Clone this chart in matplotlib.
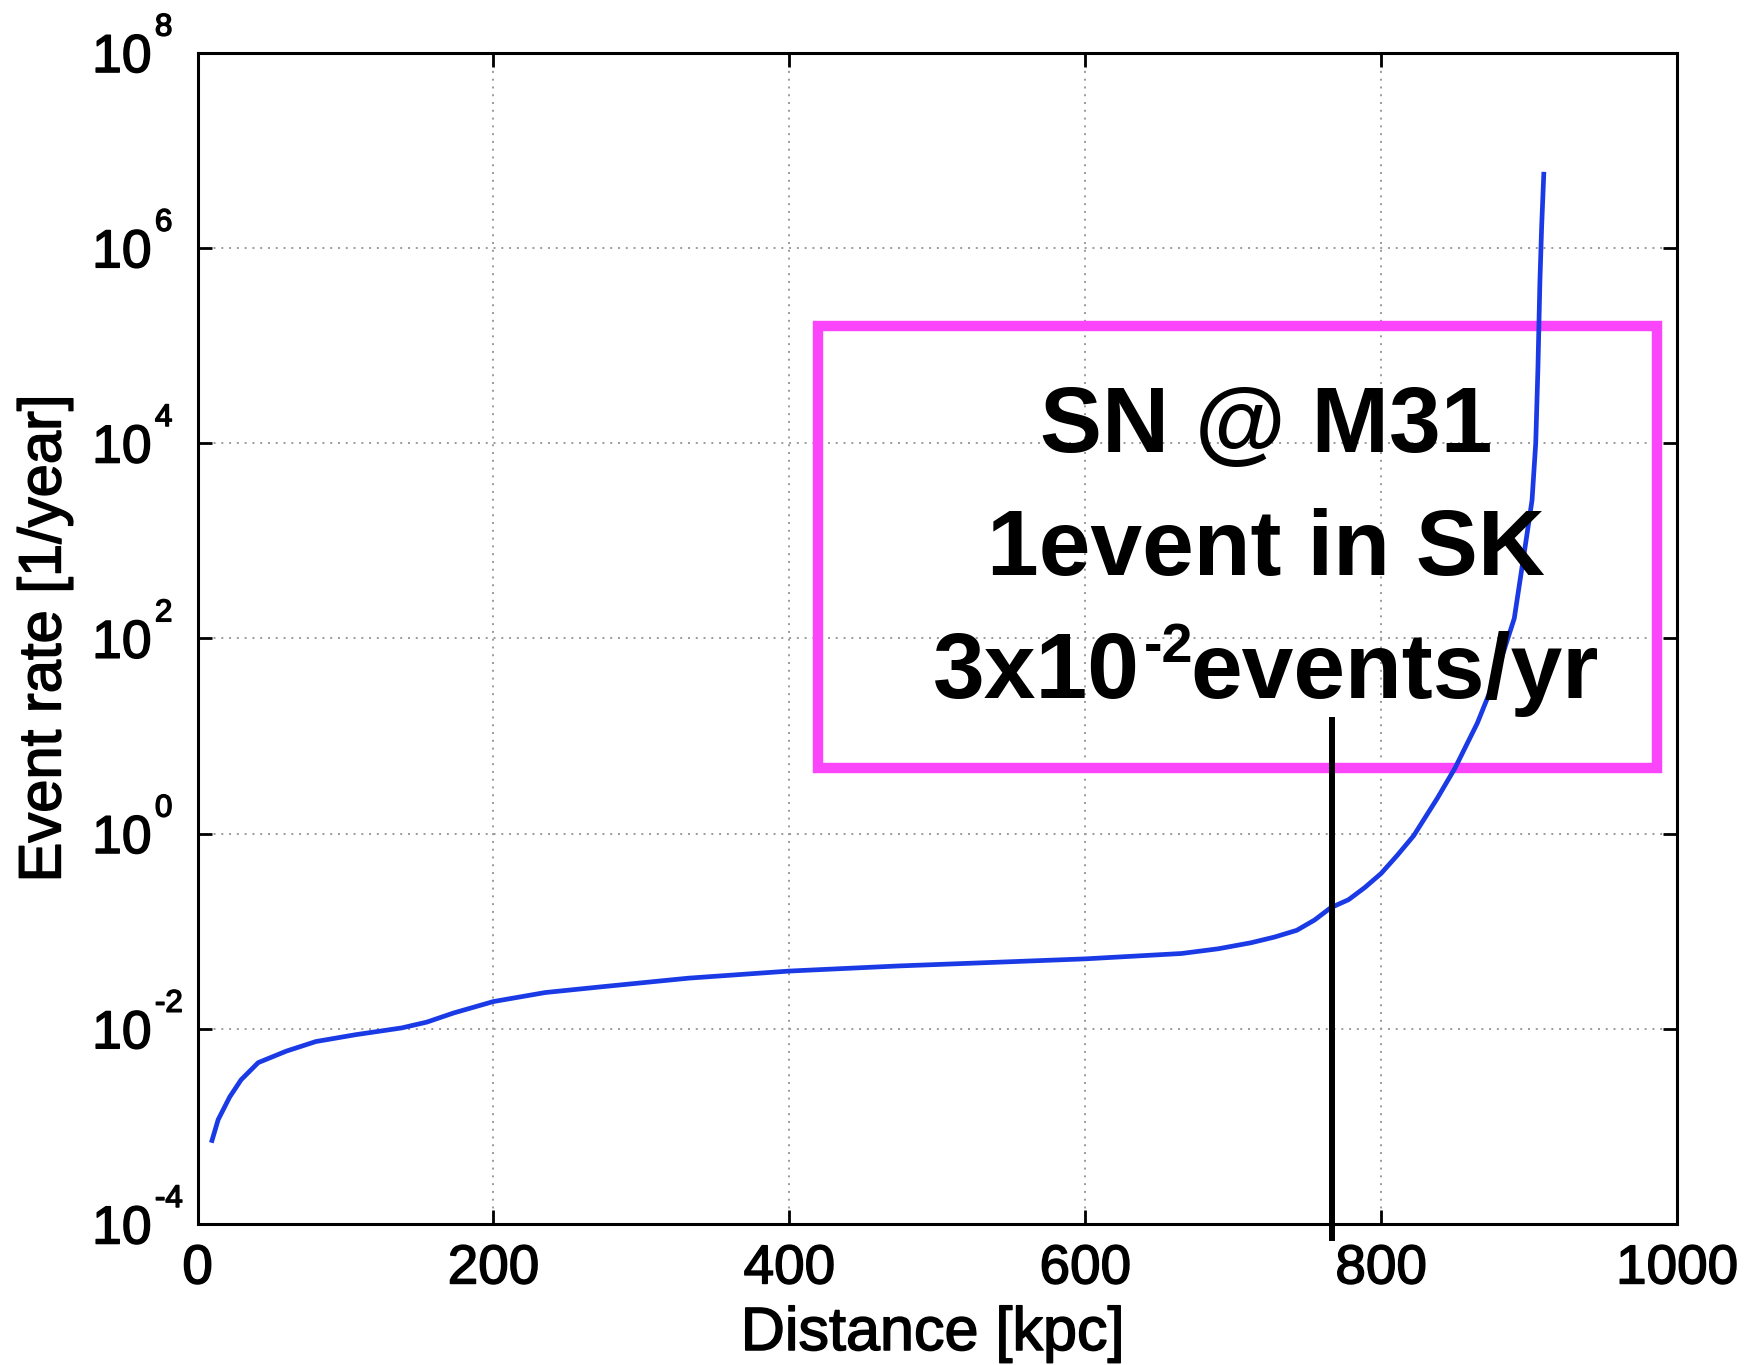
import matplotlib
matplotlib.use("Agg")
import matplotlib.pyplot as plt
import matplotlib.patheffects as pe
from matplotlib.patches import Rectangle
from matplotlib.transforms import blended_transform_factory, offset_copy, IdentityTransform
from matplotlib.ticker import FixedLocator, FixedFormatter, NullLocator

plt.rcParams['font.family'] = ['Liberation Sans', 'DejaVu Sans']

# ---- data ----
distance_kpc = [9.3, 13.9, 21.7, 29.4, 41, 60, 80, 107, 138, 155, 173, 200, 235,
                274, 332, 400, 474, 540, 600, 665, 690, 712, 728, 743, 755, 766,
                778, 789, 800, 811, 822, 838, 850, 865, 876, 890, 897.5, 902,
                904.5, 906, 907.3, 908.5, 910]
event_rate = [6.8e-4, 1.17e-3, 2.0e-3, 3.0e-3, 4.5e-3, 5.9e-3, 7.4e-3, 8.7e-3,
              1.02e-2, 1.17e-2, 1.45e-2, 1.9e-2, 2.35e-2, 2.7e-2, 3.3e-2, 3.9e-2,
              4.4e-2, 4.8e-2, 5.2e-2, 5.9e-2, 6.6e-2, 7.6e-2, 8.7e-2, 0.102, 0.13,
              0.174, 0.21, 0.28, 0.39, 0.60, 0.95, 2.3, 4.7, 13.5, 35, 160, 900,
              2600, 1.0e4, 6.0e4, 4.4e5, 1.66e6, 6.0e6]

x_ticks = [0, 200, 400, 600, 800, 1000]
x_tick_labels = ['0', '200', '400', '600', '800', '1000']
y_ticks = [1e-4, 1e-2, 1e0, 1e2, 1e4, 1e6, 1e8]
y_tick_base = '10'
y_tick_exponents = ['-4', '-2', '0', '2', '4', '6', '8']

m31_distance = 767
annotation_line1 = 'SN @ M31'
annotation_line2 = '1event in SK'
annotation_line3 = ['3x10', '-2', 'events/yr']

# ---- figure ----
fig = plt.figure(figsize=(17.5, 13.65), dpi=100)
ax = fig.add_axes([0.1129, 0.1033, 0.8454, 0.8582])

ax.plot(distance_kpc, event_rate, color='#1a3ae6', linewidth=3.4, zorder=4,
        solid_joinstyle='round', solid_capstyle='butt')

ax.set_yscale('log')
ax.set_xlim(0, 1000)
ax.set_ylim(1e-4, 1e8)

ax.xaxis.set_major_locator(FixedLocator(x_ticks))
ax.xaxis.set_major_formatter(FixedFormatter(x_tick_labels))
ax.yaxis.set_major_locator(FixedLocator(y_ticks))
ax.yaxis.set_major_formatter(FixedFormatter([y_tick_base] * len(y_ticks)))
ax.yaxis.set_minor_locator(NullLocator())
ax.xaxis.set_minor_locator(NullLocator())

ax.grid(True, which='major', linestyle=(0, (1, 3)), color='#9a9a9a', linewidth=1.4)
ax.tick_params(which='major', direction='in', top=True, right=True,
               length=10, width=2)
ax.tick_params(axis='x', labelsize=39.5, pad=14)
ax.tick_params(axis='y', labelsize=38.5, pad=33)
for s in ax.spines.values():
    s.set_linewidth(2.2)

thick = [pe.withStroke(linewidth=1.1, foreground='black')]
for tk in ax.xaxis.get_major_ticks() + ax.yaxis.get_major_ticks():
    tk.label1.set_path_effects(thick)

# exponents of the y tick labels
ytr = blended_transform_factory(ax.transAxes, ax.transData)
ytr_up = offset_copy(ytr, fig=fig, x=0, y=17, units='dots')
for yv, ex in zip(y_ticks, y_tick_exponents):
    ax.text(-0.0288, yv, ex, transform=ytr_up, ha='left', va='baseline',
            fontsize=22.5, clip_on=False, path_effects=thick)

ax.set_xlabel('Distance [kpc]', fontsize=44, path_effects=thick)
ax.set_ylabel('Event rate [1/year]', fontsize=43, path_effects=thick)
ax.xaxis.set_label_coords(0.497, -0.070)
ax.yaxis.set_label_coords(-0.0846, 0.5)

# vertical marker line at M31 distance
tr = blended_transform_factory(ax.transData, ax.transAxes)
ax.plot([m31_distance, m31_distance], [-0.012, 0.430], transform=tr,
        color='black', linewidth=4.3, clip_on=False, zorder=5)

# magenta annotation box
box = Rectangle((0.4194, 0.3892), 0.9865 - 0.4194, 0.7665 - 0.3892,
                transform=ax.transAxes, fill=False, edgecolor='#fb45fb',
                linewidth=7.5, clip_on=False, zorder=3)
ax.add_patch(box)

F = 67
cx = 0.7222
ax.text(cx, 0.659, annotation_line1, transform=ax.transAxes, ha='center',
        va='baseline', fontsize=F, fontweight='bold', zorder=6)
ax.text(cx, 0.554, annotation_line2, transform=ax.transAxes, ha='center',
        va='baseline', fontsize=F, fontweight='bold', zorder=6)

# third line: composed with a raised, smaller exponent
renderer = fig.canvas.get_renderer()
sizes = [F, F * 0.6, F]
raises = [0, 36, 0]
pieces, widths = [], []
for s, size in zip(annotation_line3, sizes):
    t = ax.text(0, 0, s, fontsize=size, fontweight='bold', ha='left',
                va='baseline', transform=IdentityTransform(), zorder=6)
    widths.append(t.get_window_extent(renderer).width)
    pieces.append(t)
gaps = [4, -3, 0]
total = sum(widths) + sum(gaps[:-1])
px, py = ax.transAxes.transform((cx, 0.4494))
xx = px - total / 2
for t, w, dy, g in zip(pieces, widths, raises, gaps):
    t.set_position((xx, py + dy))
    xx += w + g

fig.savefig('out.png', dpi=100)
